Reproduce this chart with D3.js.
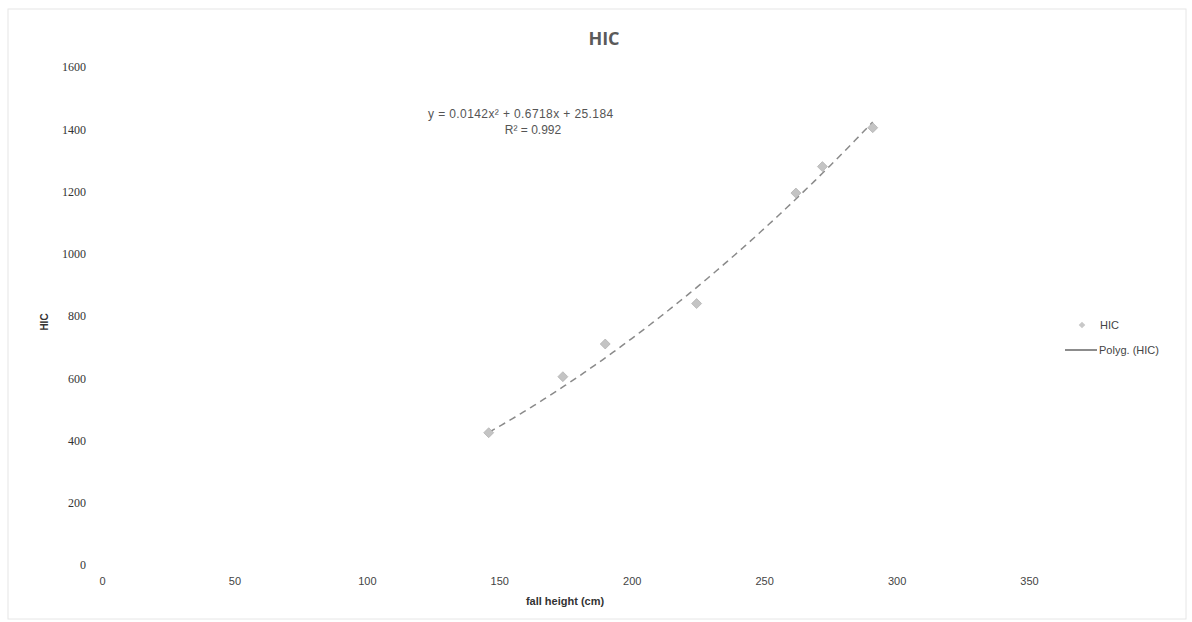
<!DOCTYPE html>
<html><head><meta charset="utf-8">
<script src="https://cdn.jsdelivr.net/npm/d3@7"></script>
<style>body{margin:0;background:#fff;}svg{display:block;}</style>
</head><body>
<svg id="chart" width="1192" height="622"></svg>
<script>
// Data
const fallHeight = [146, 174, 190, 224.5, 262, 272, 291];
const hicValues  = [425, 605, 710, 840, 1195, 1280, 1405];
const xTicks = [0, 50, 100, 150, 200, 250, 300, 350];
const yTicks = [0, 200, 400, 600, 800, 1000, 1200, 1400, 1600];
// Trendline coefficients shown in the chart: y = a x^2 + b x + c
const trendCoef = [0.0142, 0.6718, 25.184];
const trendRange = [146, 291];

const svg = d3.select("#chart");
const x = d3.scaleLinear().domain([0, 350]).range([102, 1029]);
const y = d3.scaleLinear().domain([0, 1600]).range([565, 67]);

// faint outer border
svg.append("rect").attr("x", 8).attr("y", 9).attr("width", 1178).attr("height", 610)
  .attr("fill", "none").attr("stroke", "#e6e6e6").attr("stroke-width", 1);

// title
svg.append("text").attr("x", 604).attr("y", 45).attr("text-anchor", "middle")
  .attr("font-family", "Open Sans, sans-serif").attr("font-weight", "bold")
  .attr("font-size", 18).attr("fill", "#5a5a5a").text("HIC");

// y axis (labels only)
const yAxis = d3.axisLeft(y).tickValues(yTicks).tickSize(0).tickPadding(0).tickFormat(d3.format("d"));
const gy = svg.append("g").attr("transform", "translate(86,0)").call(yAxis);
gy.select(".domain").remove();
gy.attr("color", "#333");
gy.selectAll("text").attr("font-family", "Liberation Serif, serif").attr("font-size", 12).attr("fill", "#333");

// x axis (labels only)
const xAxis = d3.axisBottom(x).tickValues(xTicks).tickSize(0).tickPadding(0).tickFormat(d3.format("d"));
const gx = svg.append("g").attr("transform", "translate(0,577)").call(xAxis);
gx.select(".domain").remove();
gx.attr("color", "#444");
gx.selectAll("text").attr("font-family", "Liberation Sans, sans-serif").attr("font-size", 11).attr("fill", "#444");

// axis titles
svg.append("text").attr("x", 565).attr("y", 605).attr("text-anchor", "middle")
  .attr("font-family", "Liberation Sans, sans-serif").attr("font-weight", "bold")
  .attr("font-size", 11).attr("fill", "#333").text("fall height (cm)");
svg.append("text").attr("transform", "translate(48,322) rotate(-90)").attr("text-anchor", "middle")
  .attr("font-family", "Liberation Sans, sans-serif").attr("font-weight", "bold")
  .attr("font-size", 10).attr("fill", "#333").text("HIC");

// trendline
const trendX = d3.range(trendRange[0], trendRange[1] + 0.01, 1);
const poly = v => trendCoef[0] * v * v + trendCoef[1] * v + trendCoef[2];
svg.append("path").datum(trendX)
  .attr("d", d3.line().x(d => x(d)).y(d => y(poly(d))))
  .attr("fill", "none").attr("stroke", "#8a8a8a").attr("stroke-width", 1.5)
  .attr("stroke-dasharray", "7,5");

// points (squares rotated 45deg = diamonds)
const pts = fallHeight.map((v, i) => ({x: v, y: hicValues[i]}));
svg.append("g").selectAll("path").data(pts).join("path")
  .attr("d", d3.symbol().type(d3.symbolSquare).size(50))
  .attr("transform", d => `translate(${x(d.x)},${y(d.y)}) rotate(45)`)
  .attr("fill", "#c4c4c4").attr("stroke", "#aaa").attr("stroke-width", 0.6);

// equation text
svg.append("text").attr("x", 428).attr("y", 118)
  .attr("font-family", "Liberation Sans, sans-serif").attr("font-size", 12).attr("fill", "#555")
  .attr("letter-spacing", 0.4)
  .text("y = 0.0142x² + 0.6718x + 25.184");
svg.append("text").attr("x", 533).attr("y", 134).attr("text-anchor", "middle")
  .attr("font-family", "Liberation Sans, sans-serif").attr("font-size", 12).attr("fill", "#555")
  .text("R² = 0.992");

// legend
svg.append("path").attr("d", d3.symbol().type(d3.symbolSquare).size(22))
  .attr("transform", "translate(1082,325) rotate(45)").attr("fill", "#c8c8c8");
svg.append("text").attr("x", 1100).attr("y", 329)
  .attr("font-family", "Liberation Sans, sans-serif").attr("font-size", 11).attr("fill", "#444").text("HIC");
svg.append("line").attr("x1", 1065).attr("x2", 1097).attr("y1", 350).attr("y2", 350)
  .attr("stroke", "#666").attr("stroke-width", 1.5);
svg.append("text").attr("x", 1099).attr("y", 354)
  .attr("font-family", "Liberation Sans, sans-serif").attr("font-size", 11).attr("fill", "#444").text("Polyg. (HIC)");
</script>
</body></html>
